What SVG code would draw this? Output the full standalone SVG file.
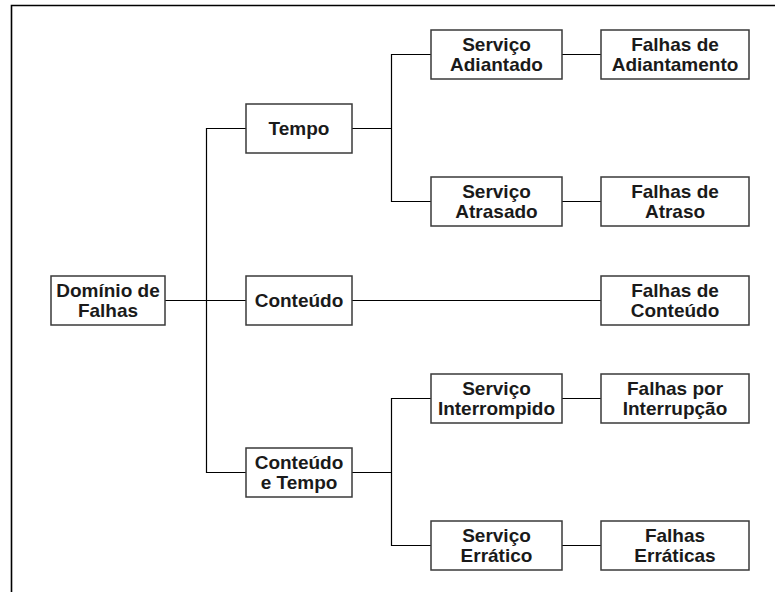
<svg xmlns="http://www.w3.org/2000/svg" width="775" height="592" viewBox="0 0 775 592">
<style>
.box{fill:#fff;stroke:#3a3a3a;stroke-width:1.5}
.lbl{font-family:"Liberation Sans",Arial,sans-serif;font-weight:bold;font-size:19px;fill:#1a1a1a;text-anchor:middle}
.ln{fill:none;stroke:#000;stroke-width:1.2}
.frame{fill:none;stroke:#000;stroke-width:1.6}
</style>
<rect width="775" height="592" fill="#fff"/>
<path class="frame" d="M11.5,592 V5.5 H775"/>
<g id="connectors">
<path class="ln" d="M165,300.5 H246"/>
<path class="ln" d="M246,128.5 H206.5 V472.5 H246"/>
<path class="ln" d="M352,300.5 H601"/>
<path class="ln" d="M352,128.5 H391.5"/>
<path class="ln" d="M431,54.5 H391.5 V201.5 H431"/>
<path class="ln" d="M562,54.5 H601"/>
<path class="ln" d="M562,201.5 H601"/>
<path class="ln" d="M352,472.5 H391.5"/>
<path class="ln" d="M431,398.5 H391.5 V545.5 H431"/>
<path class="ln" d="M562,398.5 H601"/>
<path class="ln" d="M562,545.5 H601"/>
</g>
<g id="dominio"><rect class="box" x="51" y="276" width="114" height="49"/><text class="lbl" x="108" y="296.5">Domínio de</text><text class="lbl" x="108" y="316.5">Falhas</text></g>
<g id="tempo"><rect class="box" x="246" y="104" width="106" height="49"/><text class="lbl" x="299" y="135">Tempo</text></g>
<g id="conteudo"><rect class="box" x="246" y="276" width="106" height="49"/><text class="lbl" x="299" y="307">Conteúdo</text></g>
<g id="conteudo-tempo"><rect class="box" x="246" y="448" width="106" height="49"/><text class="lbl" x="299" y="468.5">Conteúdo</text><text class="lbl" x="299" y="488.5">e Tempo</text></g>
<g id="servico-adiantado"><rect class="box" x="431" y="30" width="131" height="49"/><text class="lbl" x="496.5" y="50.5">Serviço</text><text class="lbl" x="496.5" y="70.5">Adiantado</text></g>
<g id="servico-atrasado"><rect class="box" x="431" y="177" width="131" height="49"/><text class="lbl" x="496.5" y="197.5">Serviço</text><text class="lbl" x="496.5" y="217.5">Atrasado</text></g>
<g id="servico-interrompido"><rect class="box" x="431" y="374" width="131" height="49"/><text class="lbl" x="496.5" y="394.5">Serviço</text><text class="lbl" x="496.5" y="414.5">Interrompido</text></g>
<g id="servico-erratico"><rect class="box" x="431" y="521" width="131" height="49"/><text class="lbl" x="496.5" y="541.5">Serviço</text><text class="lbl" x="496.5" y="561.5">Errático</text></g>
<g id="falhas-adiantamento"><rect class="box" x="601" y="30" width="148" height="49"/><text class="lbl" x="675" y="50.5">Falhas de</text><text class="lbl" x="675" y="70.5">Adiantamento</text></g>
<g id="falhas-atraso"><rect class="box" x="601" y="177" width="148" height="49"/><text class="lbl" x="675" y="197.5">Falhas de</text><text class="lbl" x="675" y="217.5">Atraso</text></g>
<g id="falhas-conteudo"><rect class="box" x="601" y="276" width="148" height="49"/><text class="lbl" x="675" y="296.5">Falhas de</text><text class="lbl" x="675" y="316.5">Conteúdo</text></g>
<g id="falhas-interrupcao"><rect class="box" x="601" y="374" width="148" height="49"/><text class="lbl" x="675" y="394.5">Falhas por</text><text class="lbl" x="675" y="414.5">Interrupção</text></g>
<g id="falhas-erraticas"><rect class="box" x="601" y="521" width="148" height="49"/><text class="lbl" x="675" y="541.5">Falhas</text><text class="lbl" x="675" y="561.5">Erráticas</text></g>
</svg>
